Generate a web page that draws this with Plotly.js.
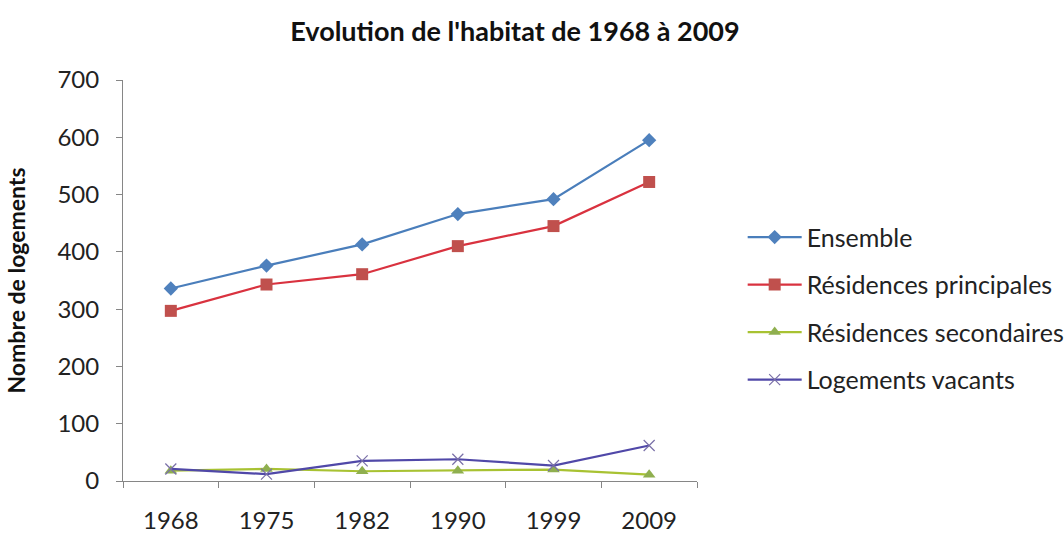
<!DOCTYPE html>
<html>
<head>
<meta charset="utf-8">
<script src="https://cdn.plot.ly/plotly-3.0.1.min.js"></script>
<style>html,body{margin:0;padding:0;background:#fff;}#chart{width:1064px;height:534px;}</style>
</head>
<body>
<div id="chart"></div>
<script>
const years = ["1968", "1975", "1982", "1990", "1999", "2009"];
const ensemble = [336, 376, 413, 466, 492, 595];
const residencesPrincipales = [297, 343, 361, 410, 445, 522];
const residencesSecondaires = [18, 21, 17, 18, 20, 11];
const logementsVacants = [21, 12, 35, 38, 27, 62];
const seriesNames = ["Ensemble", "Résidences principales", "Résidences secondaires", "Logements vacants"];

const font = "Lato, 'Open Sans', sans-serif";
const traces = [
  {x: years, y: ensemble, name: seriesNames[0], legendgroup: "a", mode: "lines+markers",
   line: {color: "#4A7EBB", width: 2.2}, marker: {symbol: "diamond", size: 11, color: "#4F81BD"}},
  {x: years, y: residencesPrincipales, name: seriesNames[1], legendgroup: "b", mode: "lines+markers",
   line: {color: "#D9323F", width: 2.2}, marker: {symbol: "square", size: 12, color: "#C0504D"}},
  {x: years, y: residencesSecondaires, name: seriesNames[2], legendgroup: "c", mode: "lines+markers",
   line: {color: "#A8C232", width: 2.2}, marker: {symbol: "triangle-up", size: 11, color: "#8FAF4F"}},
  {x: years, y: logementsVacants, name: seriesNames[3], legendgroup: "d", mode: "lines+markers",
   line: {color: "#5048A8", width: 2.2}, marker: {symbol: "x-thin-open", size: 11, color: "#7A70A8", line: {width: 1.2, color: "#7A70A8"}}}
];

const layout = {
  width: 1064, height: 534,
  margin: {l: 123, r: 367, t: 80, b: 53, autoexpand: false},
  paper_bgcolor: "#fff", plot_bgcolor: "#fff",
  font: {family: font, color: "#222"},
  title: {text: "<b>Evolution de l'habitat de 1968 à 2009</b>", font: {family: font, size: 27, color: "#111"},
          x: 0.484, xref: "container", xanchor: "center", y: 0.94, yref: "container", yanchor: "middle"},
  xaxis: {type: "category", range: [-0.5, 5.5], showgrid: false, zeroline: false, showline: true, linecolor: "#868686", linewidth: 1,
          ticks: "outside", tickson: "boundaries", ticklen: 6, tickcolor: "#868686",
          tickfont: {family: font, size: 24, color: "#222"}, ticklabelstandoff: 18, fixedrange: true},
  yaxis: {range: [0, 700], dtick: 100, showgrid: false, zeroline: false, showline: true, linecolor: "#868686", linewidth: 1,
          ticks: "outside", ticklen: 6, tickcolor: "#868686",
          tickfont: {family: font, size: 24, color: "#222"}, ticklabelstandoff: 12,
          title: {text: "<b>Nombre de logements</b>", font: {family: font, size: 23, color: "#111"}, standoff: 25}},
  legend: {x: 0.698, xref: "container", xanchor: "left", y: 0.665, yanchor: "top", font: {family: font, size: 25, color: "#222"},
           itemwidth: 54, tracegroupgap: 12, bgcolor: "rgba(0,0,0,0)"},
  showlegend: true
};

Plotly.newPlot("chart", traces, layout, {displayModeBar: false, staticPlot: true});
</script>
</body>
</html>
